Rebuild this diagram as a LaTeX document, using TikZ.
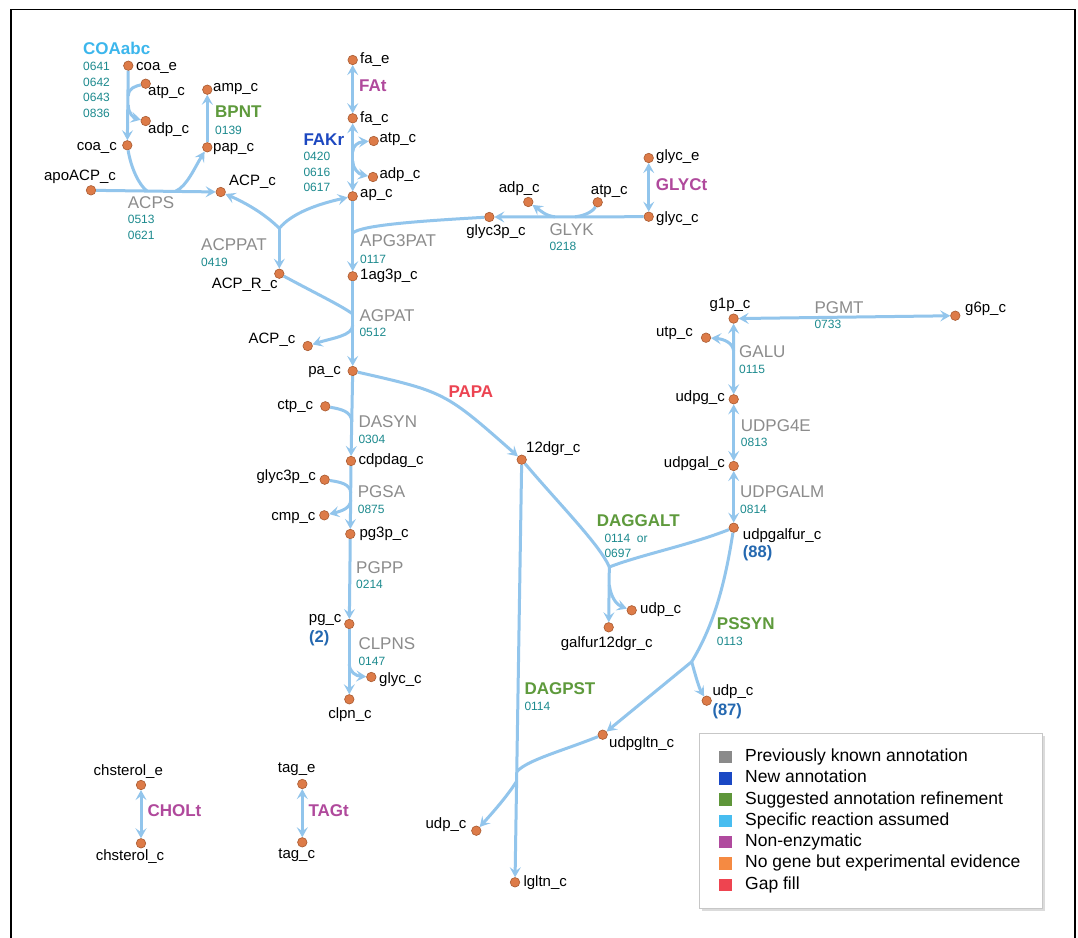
\documentclass[tikz,border=0pt]{standalone}
\usepackage{fontspec}
\setmainfont{Liberation Sans}
\usetikzlibrary{arrows.meta}
\definecolor{lineblue}{HTML}{92C5EC}
\definecolor{dotfill}{HTML}{DD7B48}
\definecolor{dotdraw}{HTML}{A85A30}
\definecolor{rgray}{HTML}{8C8C8C}
\definecolor{geneteal}{HTML}{1C8A8E}
\definecolor{rlblue}{HTML}{3CB6EC}
\definecolor{rgreen}{HTML}{5E9A3C}
\definecolor{rblue}{HTML}{1D48C0}
\definecolor{rpurple}{HTML}{B0499C}
\definecolor{rred}{HTML}{EC4452}
\definecolor{numblue}{HTML}{2468B0}
\definecolor{lgray}{HTML}{8A8A8A}
\definecolor{lblue}{HTML}{1A48C4}
\definecolor{lgreen}{HTML}{5E963A}
\definecolor{llblue}{HTML}{48BDF0}
\definecolor{lpurple}{HTML}{B04A9E}
\definecolor{lorange}{HTML}{F58A42}
\definecolor{lred}{HTML}{EE4450}
\newcommand\met[5]{\node[dot] (#1) at (#2) {};\node[mtext,anchor=#3] (#1t) at (#4) {#5};}
\newcommand\gn[4]{\node[gene] (#1) at (#2,#3) {#4};}
\begin{document}
\begin{tikzpicture}[x=1pt,y=-1pt,
  dot/.style={circle,fill=dotfill,draw=dotdraw,line width=0.6pt,minimum size=9.5pt,inner sep=0pt},
  mtext/.style={inner sep=0pt,text height=10.8pt,text depth=3.2pt,font=\fontsize{15}{18}\selectfont},
  rname/.style={inner sep=0pt,anchor=west,text height=12.2pt,text depth=0pt,text=rgray,font=\fontsize{17}{20}\selectfont},
  rbold/.style={inner sep=0pt,anchor=west,text height=12.2pt,text depth=0pt,font=\fontsize{17}{20}\selectfont\bfseries},
  numb/.style={inner sep=0pt,anchor=west,text height=11.9pt,text depth=0pt,text=numblue,font=\fontsize{16.5}{20}\selectfont\bfseries},
  gene/.style={inner sep=0pt,anchor=west,text height=8.6pt,text depth=0pt,text=geneteal,font=\fontsize{12}{14}\selectfont},
  ltext/.style={inner sep=0pt,anchor=west,text height=12.6pt,text depth=3.7pt,font=\fontsize{17.5}{20}\selectfont},
  rx/.style={draw=lineblue,line width=3pt},
  ar/.style={rx,-{Stealth[length=10pt,width=11pt,inset=4pt]}},
  bi/.style={rx,{Stealth[length=10pt,width=11pt,inset=4pt]}-{Stealth[length=10pt,width=11pt,inset=4pt]}},
  ]
\useasboundingbox (0,0) rectangle (1078,937);
\fill[white] (0,0) rectangle (1078,937);
\draw[line width=1.5pt] (11,945) -- (11,9.5) -- (1075,9.5) -- (1075,945);

% ---------- metabolites ----------
\met{coae}{128.3,65.7}{west}{136,66.5}{coa\_e}
\met{atp1}{145.7,83.7}{west}{148,92}{atp\_c}
\met{adp1}{145.7,121}{west}{148,130}{adp\_c}
\met{coac}{127.3,145.3}{east}{117,147}{coa\_c}
\met{amp}{207.3,89.7}{west}{213,88}{amp\_c}
\met{pap}{207.3,147.3}{west}{213,148}{pap\_c}
\met{apoacp}{91,190.3}{center}{80,177}{apoACP\_c}
\met{acp1}{220.7,192}{west}{229,182}{ACP\_c}
\met{acpr}{279.3,273.7}{center}{244.7,285}{ACP\_R\_c}
\met{acp2}{307.7,346}{center}{272,340}{ACP\_c}
\met{fae}{352.7,60}{west}{360,60}{fa\_e}
\met{fac}{352.7,118.3}{west}{360,119}{fa\_c}
\met{atp2}{373.7,141}{west}{379.3,139}{atp\_c}
\met{adp2}{373,177}{west}{379.3,175}{adp\_c}
\met{apc}{352.7,196.3}{west}{360,193.3}{ap\_c}
\met{ag3p}{352.7,276.3}{west}{360,276}{1ag3p\_c}
\met{adp3}{528.3,202}{center}{519.3,189}{adp\_c}
\met{atp3}{597.7,202.3}{center}{609.3,190.7}{atp\_c}
\met{glyc3p1}{489.3,217}{center}{496,231.7}{glyc3p\_c}
\met{glyce}{648.7,158}{west}{656,156.7}{glyc\_e}
\met{glycc}{648.7,216.7}{west}{656,218.3}{glyc\_c}
\met{pac}{352.7,371}{east}{341,370.7}{pa\_c}
\met{ctp}{325.3,406.3}{east}{313.3,405.3}{ctp\_c}
\met{cdpdag}{351,461}{west}{358.3,461}{cdpdag\_c}
\met{glyc3p2}{324.7,479.7}{east}{316,476.7}{glyc3p\_c}
\met{cmp}{324.3,515.3}{east}{315.7,516.7}{cmp\_c}
\met{pg3p}{350.3,534}{west}{359.3,534}{pg3p\_c}
\met{pgc}{349.3,624}{east}{341.7,619}{pg\_c}
\met{glycc2}{371.3,677}{west}{379,680}{glyc\_c}
\met{clpn}{349.3,699.3}{center}{350,715}{clpn\_c}
\met{dgr}{521.7,459.7}{west}{526,448.3}{12dgr\_c}
\met{udp1}{631.7,610.3}{west}{640,609.3}{udp\_c}
\met{galfur}{608.7,627.3}{center}{606.7,644}{galfur12dgr\_c}
\met{udpgalfur}{733.7,527.7}{west}{742.7,535.7}{udpgalfur\_c}
\met{udp2}{706.7,700.7}{west}{712.3,691.7}{udp\_c}
\met{udpgltn}{602.7,734.7}{west}{609,743.3}{udpgltn\_c}
\met{udp3}{476.3,830.7}{east}{466.7,824.3}{udp\_c}
\met{lgltn}{515,882.3}{west}{523.3,883}{lgltn\_c}
\met{g1p}{733.6,318.6}{center}{730,305}{g1p\_c}
\met{g6p}{955.3,315.7}{west}{965,309}{g6p\_c}
\met{utp}{706,337.7}{east}{693,332.7}{utp\_c}
\met{udpg}{733.7,399.3}{east}{725,397.7}{udpg\_c}
\met{udpgal}{733.7,466}{east}{725,463.3}{udpgal\_c}
\met{chstere}{141,785}{center}{128.3,771.7}{chsterol\_e}
\met{chsterc}{141,843.3}{center}{130,856.7}{chsterol\_c}
\met{tage}{302.3,784}{center}{296.7,768.3}{tag\_e}
\met{tagc}{302.3,842.3}{center}{296.7,855}{tag\_c}
\node[numb] (n2) at (309,636.7) {(2)};
\node[numb] (n88) at (742.7,551.7) {(88)};
\node[numb] (n87) at (712.3,710) {(87)};

% ---------- reaction labels ----------
\node[rbold,text=rlblue] (rcoa) at (83,48) {COAabc};
\gn{gcoa1}{83}{66}{0641}\gn{gcoa2}{83}{81.7}{0642}\gn{gcoa3}{83}{97.3}{0643}\gn{gcoa4}{83}{113}{0836}
\node[rbold,text=rgreen] (rbpnt) at (215,111.7) {BPNT};
\gn{gbpnt}{215}{130}{0139}
\node[rname] (racps) at (127.7,202) {ACPS};
\gn{gacps1}{127.7}{219}{0513}\gn{gacps2}{127.7}{235}{0621}
\node[rname] (racpp) at (201,244) {ACPPAT};
\gn{gacpp}{201}{261.7}{0419}
\node[rbold,text=rpurple] (rfat) at (359,85.7) {FAt};
\node[rbold,text=rblue] (rfakr) at (303.3,139) {FAKr};
\gn{gfak1}{303.3}{156.3}{0420}\gn{gfak2}{303.3}{171.7}{0616}\gn{gfak3}{303.3}{187}{0617}
\node[rname] (rapg) at (360,240.7) {APG3PAT};
\gn{gapg}{360}{259}{0117}
\node[rname] (rglyk) at (549.3,229) {GLYK};
\gn{gglyk}{549.3}{246}{0218}
\node[rbold,text=rpurple] (rglyct) at (655.7,184) {GLYCt};
\node[rname] (ragp) at (359.3,315) {AGPAT};
\gn{gagp}{359.3}{332.3}{0512}
\node[rbold,text=rred] (rpapa) at (448.3,391) {PAPA};
\node[rname] (rdas) at (358.3,421.7) {DASYN};
\gn{gdas}{358.3}{439.3}{0304}
\node[rname] (rpgsa) at (357.7,491.7) {PGSA};
\gn{gpgsa}{357.7}{508.7}{0875}
\node[rname] (rpgpp) at (356,567.7) {PGPP};
\gn{gpgpp}{356}{584.3}{0214}
\node[rname] (rclp) at (358.3,643.3) {CLPNS};
\gn{gclp}{358.3}{660.7}{0147}
\node[rbold,text=rgreen] (rdaggalt) at (596.7,520) {DAGGALT};
\gn{gdag1}{604.3}{538.3}{0114~~or}\gn{gdag2}{604.3}{553.3}{0697}
\node[rbold,text=rgreen] (rpssyn) at (716.7,623.3) {PSSYN};
\gn{gpss}{716.7}{640.7}{0113}
\node[rbold,text=rgreen] (rdagpst) at (524.3,688.3) {DAGPST};
\gn{gdagp}{524.3}{705.7}{0114}
\node[rname] (rpgmt) at (814.3,307.3) {PGMT};
\gn{gpgmt}{814.3}{324.3}{0733}
\node[rname] (rgalu) at (739,351) {GALU};
\gn{ggalu}{739}{368.7}{0115}
\node[rname] (rudpg4e) at (740.7,425) {UDPG4E};
\gn{gudpg4e}{740.7}{442.3}{0813}
\node[rname] (rudpgalm) at (740,491.7) {UDPGALM};
\gn{gudpgalm}{740}{509}{0814}
\node[rbold,text=rpurple] (rcholt) at (147.3,810) {CHOLt};
\node[rbold,text=rpurple] (rtagt) at (308.3,810) {TAGt};

% ---------- reactions ----------
% COAabc
\coordinate (jcoa1) at (128.3,96);
\coordinate (jcoa2) at (128.3,105);
\draw[ar] (coae) -- (coac);
\draw[rx] (atp1) .. controls (136,86) and (128.3,88) .. (jcoa1);
\draw[ar] (jcoa2) .. controls (128.3,114) and (134,118) .. (adp1);
% ACPS
\coordinate (jacps1) at (147,191);
\coordinate (jacps2) at (176,191);
\draw[ar] (apoacp) -- (acp1);
\draw[rx] (coac) .. controls (131,168) and (139,185) .. (jacps1);
\draw[ar] (jacps2) .. controls (187,186) and (195,167) .. (pap);
% BPNT
\draw[ar] (pap) -- (amp);
% ACPPAT
\coordinate (jacpp) at (279.3,228.3);
\draw[ar] (jacpp) .. controls (265,214) and (246,203) .. (acp1);
\draw[ar] (jacpp) .. controls (292,213) and (318,204) .. (apc);
\draw[ar] (jacpp) -- (acpr);
% FAt, FAKr
\draw[bi] (fae) -- (fac);
\draw[bi] (fac) -- (apc);
\coordinate (jfak1) at (352.7,152);
\coordinate (jfak2) at (352.7,161);
\draw[ar] (jfak1) .. controls (352.7,146) and (358,142) .. (atp2);
\draw[ar] (jfak2) .. controls (352.7,168) and (358,174) .. (adp2);
% APG3PAT
\coordinate (japg) at (352.7,233);
\draw[ar] (apc) -- (ag3p);
\draw[rx] (glyc3p1) .. controls (420,221) and (362,225) .. (japg);
% GLYK
\coordinate (jglyk1) at (575,216.8);
\coordinate (jglyk2) at (555,216.8);
\draw[ar] (glycc) -- (glyc3p1);
\draw[rx] (atp3) .. controls (594,210) and (587,215.5) .. (jglyk1);
\draw[ar] (jglyk2) .. controls (546,216) and (541,211) .. (adp3);
% GLYCt
\draw[bi] (glyce) -- (glycc);
% AGPAT
\coordinate (jagp1) at (352.7,314);
\coordinate (jagp2) at (352.7,325);
\draw[ar] (ag3p) -- (pac);
\draw[rx] (acpr) .. controls (315,293) and (342,306) .. (jagp1);
\draw[ar] (jagp2) .. controls (352.7,336) and (332,338) .. (acp2);
% PAPA
\draw[ar] (pac) .. controls (445,392) .. (dgr);
% DASYN
\coordinate (jdas) at (351.8,422);
\draw[ar] (pac) -- (cdpdag);
\draw[rx] (ctp) .. controls (340,409) and (351.8,411) .. (jdas);
% PGSA
\coordinate (jpgs1) at (350.7,493);
\coordinate (jpgs2) at (350.7,500);
\draw[ar] (cdpdag) -- (pg3p);
\draw[rx] (glyc3p2) .. controls (340,482) and (350.7,484) .. (jpgs1);
\draw[ar] (jpgs2) .. controls (350.7,508) and (342,511) .. (cmp);
% PGPP, CLPNS
\draw[ar] (pg3p) -- (pgc);
\coordinate (jclp) at (349.3,664);
\draw[ar] (pgc) -- (clpn);
\draw[ar] (jclp) .. controls (349.3,672) and (356,676) .. (glycc2);
% DAGGALT
\coordinate (jdag) at (609.3,567);
\coordinate (jdag2) at (609.3,585);
\draw[rx] (dgr) .. controls (560,505) and (600,545) .. (jdag);
\draw[rx] (udpgalfur) .. controls (690,545) and (640,555) .. (jdag);
\draw[ar] (jdag) -- (galfur);
\draw[ar] (jdag2) .. controls (611,598) and (617,605) .. (udp1);
% PSSYN
\coordinate (jps) at (691.7,661.7);
\draw[rx] (udpgalfur) .. controls (724,590) and (712,628) .. (jps);
\draw[ar] (jps) .. controls (695,674) and (699,688) .. (udp2);
\draw[ar] (jps) -- (udpgltn);
% DAGPST
\coordinate (jdp1) at (517,771.5);
\coordinate (jdp2) at (516.8,781);
\draw[ar] (dgr) -- (lgltn);
\draw[rx] (udpgltn) .. controls (565,750) and (527,760) .. (jdp1);
\draw[ar] (jdp2) .. controls (508,795) and (495,810) .. (udp3);
% PGMT, GALU, UDPG4E, UDPGALM
\coordinate (jgalu) at (733.6,351);
\draw[bi] (g1p) -- (g6p);
\draw[bi] (g1p) -- (udpg);
\draw[ar] (jgalu) .. controls (733,343) and (724,339) .. (utp);
\draw[bi] (udpg) -- (udpgal);
\draw[bi] (udpgal) -- (udpgalfur);
% CHOLt, TAGt
\draw[bi] (chstere) -- (chsterc);
\draw[bi] (tage) -- (tagc);

% ---------- legend ----------
\fill[black!14] (701.5,735.5) rectangle (1044.5,910.5);
\node[draw=black!22,fill=white,line width=0.8pt,minimum width=343pt,minimum height=175pt,anchor=north west,inner sep=0pt] (legend) at (699,733) {};
\foreach \c/\t [count=\i] in {lgray/Previously known annotation,lblue/New annotation,lgreen/Suggested annotation refinement,llblue/Specific reaction assumed,lpurple/Non-enzymatic,lorange/No gene but experimental evidence,lred/Gap fill}{
  \node[fill=\c,minimum size=12.5pt,inner sep=0pt] (sq\i) at (725.5,{757+21.3*(\i-1)}) {};
  \node[ltext] (lt\i) at (745,{757+21.3*(\i-1)}) {\t};
}
\end{tikzpicture}
\end{document}
